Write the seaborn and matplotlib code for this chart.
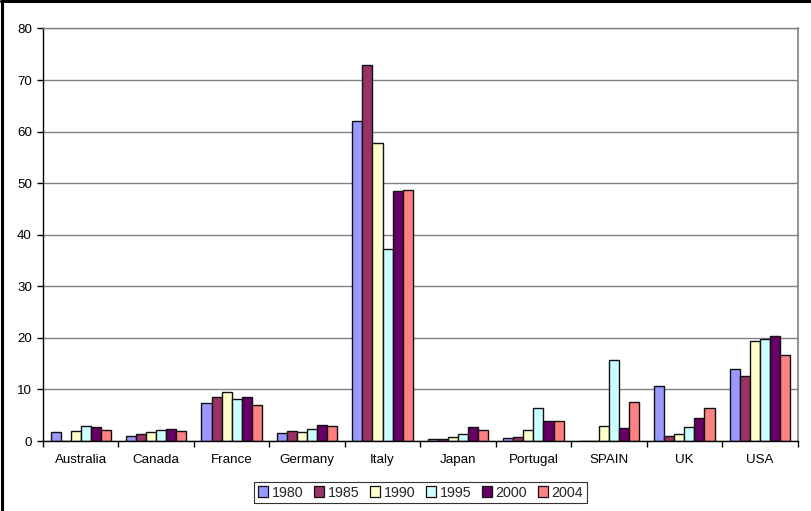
import matplotlib
matplotlib.use("Agg")
import matplotlib.pyplot as plt
import seaborn as sns
import pandas as pd
from matplotlib.lines import Line2D

countries = ["Australia", "Canada", "France", "Germany", "Italy",
             "Japan", "Portugal", "SPAIN", "UK", "USA"]
years = ["1980", "1985", "1990", "1995", "2000", "2004"]

v1980 = [1.7, 0.9, 7.3, 1.6, 62.1, 0.45, 0.5, 0.0, 10.6, 13.9]
v1985 = [0.0, 1.3, 8.5, 1.9, 73.0, 0.3, 0.7, 0.0, 1.0, 12.7]
v1990 = [2.0, 1.7, 9.6, 1.7, 57.7, 0.7, 2.1, 2.85, 1.4, 19.4]
v1995 = [3.0, 2.2, 8.2, 2.4, 37.2, 1.4, 6.35, 15.7, 2.7, 19.8]
v2000 = [2.7, 2.4, 8.5, 3.2, 48.4, 2.7, 3.8, 2.5, 4.5, 20.3]
v2004 = [2.2, 1.9, 6.9, 3.0, 48.7, 2.1, 3.9, 7.5, 6.35, 16.6]

colors = ["#9999FF", "#993366", "#FFFFCC", "#CCFFFF", "#660066", "#FF8080"]

series = [v1980, v1985, v1990, v1995, v2000, v2004]
rows = []
for y, vals in zip(years, series):
    for c, v in zip(countries, vals):
        rows.append({"Country": c, "Year": y, "Value": v})
df = pd.DataFrame(rows)

sns.set_theme(style="white")
plt.rcParams["font.family"] = ["Liberation Sans", "DejaVu Sans"]

fig = plt.figure(figsize=(8.11, 5.11), dpi=100)
ax = fig.add_axes([43 / 811, 1 - 441 / 511, (797.5 - 43) / 811, (441 - 28.5) / 511])

sns.barplot(data=df, x="Country", y="Value", hue="Year", order=countries,
            hue_order=years, palette=colors, width=0.8, ax=ax,
            edgecolor="#111111", linewidth=1.0, errorbar=None, legend=False, saturation=1)

ax.set_xlim(-0.5, len(countries) - 0.5)
ax.set_ylim(0, 80)
ax.set_yticks(range(0, 81, 10))
ax.set_xlabel("")
ax.set_ylabel("")
ax.yaxis.grid(True, color="#808080", linewidth=1.0)
ax.set_axisbelow(True)

ax.set_xticks(range(len(countries)))
ax.set_xticklabels(countries, fontsize=9.6, color="black")
ax.set_xticks([i - 0.5 for i in range(len(countries) + 1)], minor=True)
ax.tick_params(axis="x", which="major", length=0, pad=9)
ax.tick_params(axis="x", which="minor", length=4, width=1, color="black", direction="out", bottom=True)
ax.tick_params(axis="y", length=4, width=1, color="black", direction="out", left=True,
               labelsize=9.6, labelcolor="black", pad=4)

for s in ["left", "bottom"]:
    ax.spines[s].set_color("black")
    ax.spines[s].set_linewidth(1)
ax.spines["top"].set_color("#808080")
ax.spines["right"].set_color("#808080")
ax.spines["top"].set_linewidth(1)
ax.spines["right"].set_linewidth(1.2)

handles = [plt.Rectangle((0, 0), 1, 1, facecolor=c, edgecolor="#111111", linewidth=0.9)
           for c in colors]
leg = fig.legend(handles, years, loc="center", bbox_to_anchor=(420.5 / 811, 1 - 492.5 / 511),
                 ncol=6, frameon=True, fancybox=False, fontsize=10.3,
                 handlelength=0.7, handleheight=0.7, handletextpad=0.25,
                 columnspacing=0.75, borderpad=0.25, borderaxespad=0)
leg.get_frame().set_edgecolor("black")
leg.get_frame().set_linewidth(0.8)

# outer frame (top and left edges visible)
fig.add_artist(Line2D([0.5 / 811, 811 / 811], [1 - 1.5 / 511, 1 - 1.5 / 511],
                      color="black", linewidth=2.2, transform=fig.transFigure))
fig.add_artist(Line2D([1.5 / 811, 1.5 / 811], [0, 1 - 0.5 / 511],
                      color="black", linewidth=2.2, transform=fig.transFigure))

fig.savefig("out.png", dpi=100)
